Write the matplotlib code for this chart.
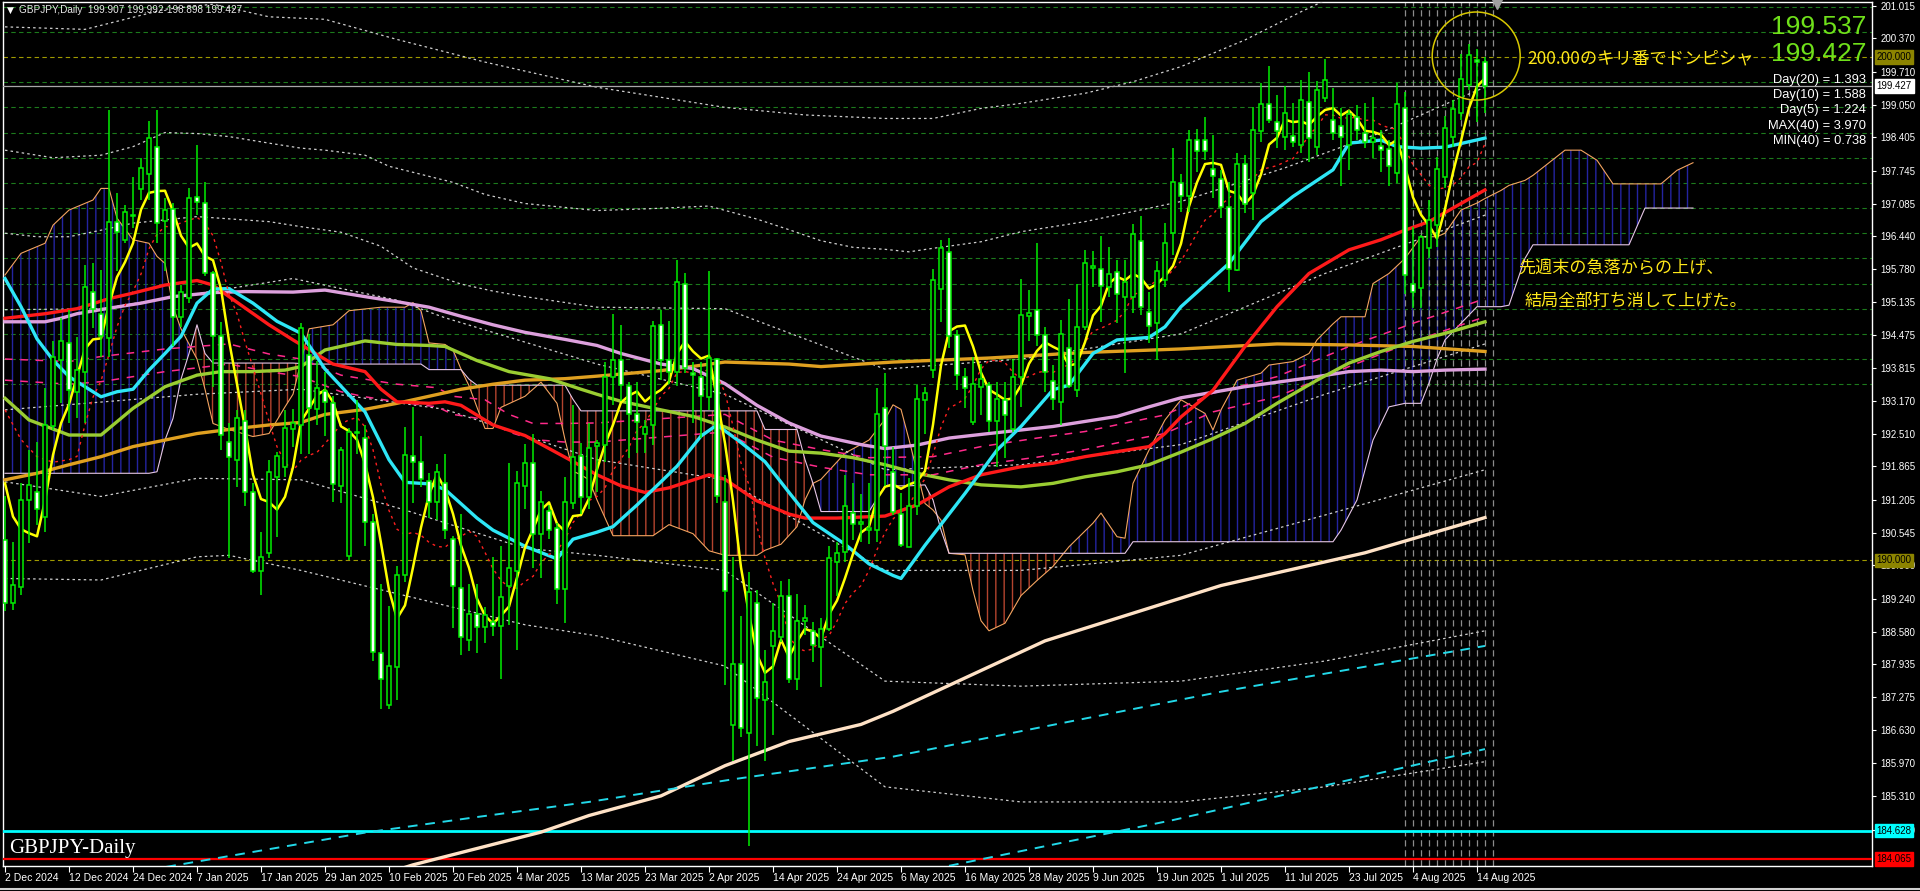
import numpy as np
import pandas as pd
import matplotlib
matplotlib.use("Agg")
import matplotlib.pyplot as plt
import matplotlib.transforms as mtransforms
from matplotlib.patches import Ellipse

# ---- daily candles, 2 Dec 2024 .. 15 Aug 2025 ----
opens = [190.41, 189.15, 189.48, 191.20, 191.36, 190.87, 192.66, 193.98, 194.31, 193.35,
         193.75, 195.34, 194.90, 194.41, 196.73, 196.37, 196.84, 197.37, 197.68, 198.22,
         196.75, 196.99, 194.83, 195.21, 197.21, 197.11, 195.70, 194.45, 192.36, 192.00,
         192.76, 191.36, 189.78, 190.14, 191.66, 191.86, 192.60, 192.69, 194.09, 193.01,
         193.36, 193.12, 191.48, 190.08, 192.53, 192.44, 190.77, 188.15, 187.12, 187.88,
         189.71, 192.07, 191.95, 191.57, 191.16, 191.54, 190.42, 189.46, 188.42, 188.94,
         188.68, 188.77, 188.70, 189.50, 189.78, 191.47, 191.93, 190.53, 190.99, 190.65,
         189.44, 191.13, 192.07, 191.26, 192.28, 192.30, 193.64, 193.98, 193.46, 192.91,
         192.52, 192.69, 194.67, 193.98, 193.74, 195.50, 193.72, 193.64, 193.25, 194.01,
         191.16, 186.72, 187.95, 186.57, 189.16, 187.22, 188.30, 188.47, 189.29, 187.65,
         188.79, 188.60, 188.27, 188.64, 189.97, 190.16, 190.95, 190.73, 190.60, 190.60,
         193.03, 191.76, 190.92, 190.27, 191.07, 193.19, 193.79, 195.40, 196.13, 194.48,
         193.65, 192.74, 193.45, 193.48, 192.76, 193.19, 192.60, 193.64, 194.85, 194.97,
         194.48, 193.57, 193.15, 194.21, 193.38, 194.63, 195.80, 195.78, 195.43, 195.72,
         195.23, 195.24, 196.35, 194.93, 194.71, 195.57, 196.50, 197.49, 197.24, 198.36,
         198.35, 197.77, 197.57, 197.03, 195.76, 197.87, 197.29, 198.53, 199.06, 198.70,
         198.41, 198.43, 198.25, 199.11, 198.22, 199.18, 198.74, 198.63, 198.25, 198.80,
         198.50, 198.32, 198.23, 198.17, 197.70, 198.99, 195.50, 195.41, 196.21, 196.66,
         197.62, 198.42, 198.88, 199.45, 199.95, 199.907]
highs = [191.27, 190.37, 191.53, 192.19, 192.36, 193.42, 194.35, 194.81, 194.97, 194.44,
         195.87, 195.90, 195.77, 198.95, 197.29, 197.06, 197.62, 197.99, 198.72, 198.95,
         197.20, 197.10, 195.47, 197.39, 198.25, 197.52, 195.74, 194.74, 192.72, 192.99,
         192.99, 191.53, 190.57, 191.99, 192.16, 192.99, 193.00, 194.71, 194.50, 193.97,
         193.75, 193.26, 192.26, 192.62, 193.19, 192.69, 190.92, 189.53, 189.10, 189.89,
         192.65, 193.04, 192.48, 191.73, 191.92, 192.12, 190.49, 190.92, 189.53, 189.53,
         189.07, 190.06, 190.28, 191.94, 191.77, 192.32, 192.51, 191.38, 191.09, 190.74,
         191.66, 193.08, 192.34, 192.72, 192.39, 193.94, 194.89, 194.67, 193.55, 193.55,
         192.78, 194.76, 194.97, 194.76, 195.96, 195.70, 193.94, 193.94, 195.75, 194.03,
         191.70, 190.06, 188.90, 189.76, 189.42, 188.21, 189.16, 189.59, 189.63, 189.33,
         189.11, 188.77, 188.86, 190.28, 190.36, 191.70, 191.53, 191.31, 191.53, 193.42,
         193.72, 192.26, 191.33, 191.63, 193.48, 193.45, 195.78, 196.37, 196.40, 194.58,
         193.82, 194.05, 193.90, 193.55, 193.55, 193.55, 194.01, 195.60, 195.37, 196.30,
         194.64, 193.88, 194.78, 195.20, 195.49, 196.17, 196.15, 196.44, 196.22, 195.97,
         195.97, 196.68, 196.84, 195.34, 195.94, 196.70, 198.19, 197.67, 198.56, 198.58,
         198.80, 198.45, 197.76, 197.52, 198.09, 198.05, 199.01, 199.48, 199.82, 199.25,
         199.43, 199.08, 199.54, 199.71, 199.53, 199.97, 199.38, 198.98, 198.95, 199.05,
         199.08, 199.21, 198.55, 198.35, 199.49, 199.31, 196.63, 196.46, 197.16, 198.02,
         198.83, 199.15, 200.07, 200.26, 200.16, 199.992]
lows = [189.00, 189.02, 189.31, 190.34, 190.70, 190.57, 192.59, 193.12, 192.72, 192.82,
        192.72, 194.61, 194.05, 194.05, 195.74, 196.30, 196.60, 197.16, 197.16, 196.30,
        195.74, 194.25, 194.64, 195.11, 196.86, 195.64, 193.45, 192.19, 190.04, 191.46,
        191.07, 189.74, 189.31, 190.04, 190.47, 191.66, 192.26, 192.12, 192.12, 192.69,
        192.48, 191.16, 191.13, 190.00, 192.12, 190.28, 188.00, 187.05, 187.05, 187.23,
        189.57, 191.13, 191.45, 190.85, 190.81, 190.42, 188.66, 188.11, 188.19, 188.15,
        188.36, 188.50, 187.65, 188.72, 188.22, 191.02, 189.85, 189.64, 190.42, 189.14,
        188.75, 191.02, 190.92, 191.02, 191.35, 191.96, 193.08, 193.16, 192.04, 192.13,
        192.13, 192.30, 193.59, 193.51, 193.46, 193.72, 192.73, 192.43, 192.99, 191.14,
        187.52, 186.01, 186.49, 184.33, 186.31, 186.01, 186.53, 188.38, 187.56, 187.43,
        188.51, 187.99, 187.48, 188.60, 189.29, 189.97, 190.41, 190.36, 190.32, 190.36,
        191.48, 190.90, 190.27, 190.26, 190.90, 192.52, 193.62, 194.74, 194.21, 193.39,
        193.02, 192.69, 192.89, 192.56, 191.86, 192.03, 192.56, 193.05, 194.35, 194.26,
        193.35, 192.99, 192.69, 193.42, 193.25, 194.58, 195.44, 194.74, 195.24, 194.71,
        193.72, 194.92, 194.88, 194.31, 193.98, 195.44, 196.07, 196.93, 196.93, 197.72,
        197.95, 197.20, 196.80, 195.34, 195.74, 196.90, 196.76, 198.32, 198.68, 198.19,
        198.15, 198.22, 198.09, 197.92, 198.05, 199.11, 198.35, 197.43, 197.76, 198.35,
        198.19, 198.00, 197.72, 197.43, 197.49, 195.29, 195.01, 195.01, 196.00, 196.23,
        197.39, 198.21, 198.75, 199.35, 198.70, 198.898]
closes = [189.15, 189.51, 191.20, 191.50, 191.03, 192.69, 194.05, 194.35, 193.39, 193.78,
          195.44, 194.99, 194.45, 196.73, 196.53, 196.93, 196.86, 197.79, 198.40, 196.70,
          196.97, 194.84, 195.34, 197.20, 197.13, 195.70, 194.45, 192.49, 192.06, 192.82,
          191.36, 189.78, 190.07, 191.76, 192.08, 192.62, 192.73, 194.61, 193.03, 193.42,
          193.15, 191.52, 192.19, 192.56, 192.56, 190.77, 188.18, 187.65, 187.90, 189.71,
          192.09, 191.95, 191.61, 191.16, 191.75, 190.60, 189.50, 188.47, 188.94, 188.68,
          188.92, 188.70, 189.27, 189.84, 191.54, 191.93, 190.53, 191.16, 190.60, 189.43,
          191.16, 192.05, 191.26, 192.23, 192.34, 193.65, 193.98, 193.49, 192.91, 192.75,
          192.65, 194.65, 193.98, 193.74, 195.53, 193.83, 193.68, 193.27, 194.03, 191.27,
          189.39, 187.95, 186.66, 189.37, 187.26, 187.58, 188.60, 189.30, 187.65, 188.79,
          188.85, 188.32, 188.64, 190.04, 190.15, 191.08, 190.73, 190.75, 190.64, 192.91,
          192.28, 190.97, 190.31, 191.07, 193.20, 193.32, 195.57, 196.20, 194.46, 193.68,
          193.42, 193.50, 193.60, 192.76, 193.20, 192.89, 193.65, 194.88, 194.92, 194.47,
          193.75, 193.20, 194.49, 193.46, 194.63, 195.90, 195.84, 195.45, 195.69, 195.30,
          195.54, 196.48, 195.03, 194.66, 195.74, 196.31, 197.52, 197.23, 198.36, 198.13,
          198.13, 197.64, 197.03, 195.78, 197.87, 197.08, 198.55, 199.06, 198.75, 198.54,
          198.88, 198.31, 199.15, 198.39, 199.35, 199.54, 198.50, 198.42, 198.87, 198.56,
          198.32, 198.40, 198.15, 197.84, 199.06, 195.67, 195.34, 196.43, 196.77, 197.77,
          198.60, 198.97, 199.56, 200.04, 199.907, 199.427]

date_labels = ["2 Dec 2024", "12 Dec 2024", "24 Dec 2024", "7 Jan 2025", "17 Jan 2025",
               "29 Jan 2025", "10 Feb 2025", "20 Feb 2025", "4 Mar 2025", "13 Mar 2025",
               "23 Mar 2025", "2 Apr 2025", "14 Apr 2025", "24 Apr 2025", "6 May 2025",
               "16 May 2025", "28 May 2025", "9 Jun 2025", "19 Jun 2025", "1 Jul 2025",
               "11 Jul 2025", "23 Jul 2025", "4 Aug 2025", "14 Aug 2025"]
price_ticks = [201.015, 200.370, 199.710, 199.050, 198.405, 197.745, 197.085, 196.440,
               195.780, 195.135, 194.475, 193.815, 193.170, 192.510, 191.865, 191.205,
               190.545, 189.900, 189.240, 188.580, 187.935, 187.275, 186.630, 185.970,
               185.310, 184.650]

# short averages before they can be computed from the visible closes
yellow_lead = [191.53, 190.87, 190.62, 190.54]
reddot_lead_x = [0, 2, 4, 6, 8]
reddot_lead_y = [192.99, 192.40, 192.06, 191.95, 192.00]

# ---- moving averages (bar index, price) ----
cyan_x = [0, 2, 4, 6, 8, 10, 12, 14, 16, 18, 20, 22, 24, 26, 28, 31, 34, 37, 40, 45, 48, 50,
          53, 55, 59, 61, 65, 69, 71, 74, 76, 79, 84, 87, 89, 92, 95, 98, 101, 105, 108, 111,
          112, 115, 120, 124, 127, 131, 133, 136, 139, 143, 145, 147, 153, 157, 161, 166, 168,
          172, 174, 177, 180, 185]
cyan_y = [195.60, 195.04, 194.40, 193.98, 193.65, 193.45, 193.25, 193.35, 193.40, 193.78,
          194.11, 194.45, 195.11, 195.39, 195.40, 195.11, 194.75, 194.51, 193.80, 192.95,
          192.00, 191.55, 191.52, 191.41, 190.84, 190.60, 190.28, 190.03, 190.42, 190.56,
          190.67, 191.10, 191.87, 192.47, 192.69, 192.34, 191.96, 191.35, 190.75, 190.32,
          189.93, 189.70, 189.64, 190.30, 191.33, 192.19, 192.66, 193.39, 193.48, 194.11,
          194.38, 194.43, 194.64, 195.04, 195.90, 196.73, 197.23, 197.76, 198.29, 198.35,
          198.22, 198.19, 198.21, 198.39]
red_x = [0, 5, 9, 13, 16, 20, 24, 26, 28, 33, 36, 41, 45, 47, 49, 53, 55, 57, 61, 65, 70,
         74, 77, 80, 83, 88, 90, 94, 98, 100, 104, 110, 114, 118, 122, 127, 131, 135, 139,
         143, 145, 147, 151, 155, 159, 163, 168, 172, 175, 178, 182, 185]
red_y = [194.81, 194.90, 195.00, 195.20, 195.31, 195.47, 195.56, 195.47, 195.24, 194.68,
         194.38, 193.90, 193.75, 193.40, 193.15, 193.12, 193.15, 193.08, 192.69, 192.48,
         192.05, 191.70, 191.48, 191.35, 191.44, 191.70, 191.61, 191.18, 190.92, 190.84,
         190.84, 190.88, 191.10, 191.46, 191.70, 191.86, 191.93, 192.06, 192.16, 192.26,
         192.52, 192.85, 193.38, 194.25, 195.04, 195.70, 196.17, 196.37, 196.56, 196.73,
         197.09, 197.36]
lime_x = [0, 3, 8, 12, 16, 20, 24, 27, 31, 35, 37, 40, 45, 49, 53, 55, 59, 63, 68, 72, 74,
          77, 82, 86, 90, 94, 98, 102, 106, 110, 114, 118, 122, 127, 131, 135, 139, 143, 147,
          151, 155, 159, 164, 168, 172, 176, 180, 185]
lime_y = [193.22, 192.79, 192.49, 192.49, 193.02, 193.45, 193.68, 193.75, 193.75, 193.78,
          193.85, 194.18, 194.36, 194.29, 194.27, 194.25, 193.97, 193.75, 193.61, 193.40,
          193.30, 193.16, 192.99, 192.86, 192.65, 192.39, 192.17, 192.13, 192.04, 191.90,
          191.73, 191.60, 191.50, 191.46, 191.53, 191.66, 191.76, 191.90, 192.15, 192.42,
          192.72, 193.12, 193.58, 193.92, 194.15, 194.35, 194.51, 194.74]
plum_x = [0, 5, 7, 9, 13, 17, 21, 26, 30, 36, 40, 45, 49, 53, 57, 61, 65, 70, 74, 77, 82,
          86, 90, 94, 98, 102, 107, 110, 114, 118, 123, 127, 131, 135, 139, 143, 147, 155,
          164, 168, 172, 176, 180, 185]
plum_y = [194.74, 194.74, 194.81, 194.90, 195.01, 195.11, 195.24, 195.32, 195.34, 195.33,
          195.37, 195.24, 195.14, 195.03, 194.85, 194.68, 194.53, 194.39, 194.27, 194.11,
          193.90, 193.81, 193.51, 193.08, 192.73, 192.47, 192.30, 192.22, 192.29, 192.43,
          192.52, 192.59, 192.66, 192.76, 192.86, 193.05, 193.23, 193.45, 193.65, 193.75,
          193.78, 193.75, 193.78, 193.80]
gold_x = [0, 4, 8, 12, 16, 20, 24, 29, 33, 37, 40, 45, 49, 53, 57, 61, 65, 70, 74, 82, 90,
          94, 98, 102, 107, 111, 123, 135, 147, 159, 168, 176, 185]
gold_y = [191.60, 191.73, 191.90, 192.06, 192.26, 192.39, 192.52, 192.62, 192.69, 192.74,
          192.90, 193.00, 193.12, 193.26, 193.40, 193.50, 193.58, 193.61, 193.66, 193.77,
          193.94, 193.92, 193.90, 193.85, 193.90, 193.94, 194.02, 194.13, 194.20, 194.30,
          194.28, 194.25, 194.15]
long_x = [40, 51, 67, 73, 82, 90, 98, 107, 111, 130, 152, 170, 185]
long_y = [183.40, 183.95, 184.60, 184.93, 185.32, 185.92, 186.40, 186.74, 187.00, 188.40,
          189.50, 190.15, 190.85]
cyan_dash1_x = [18, 45, 59, 73, 91, 111, 130, 152, 185]
cyan_dash1_y = [183.85, 184.59, 184.90, 185.20, 185.65, 186.10, 186.70, 187.39, 188.30]
cyan_dash2_x = [118, 146, 185]
cyan_dash2_y = [183.93, 184.84, 186.25]
pink_x = [0, 8, 12, 20, 28, 33, 37, 42, 45, 49, 54, 56, 60, 63, 66, 70, 74, 90, 96, 102,
          108, 116, 122, 129, 135, 141, 145, 151, 159, 168, 176, 185]
pink_a = [194.00, 193.95, 194.05, 194.20, 194.30, 194.10, 194.00, 193.68, 193.60, 193.50,
          193.43, 193.26, 193.19, 192.90, 192.72, 192.72, 192.73, 192.90, 192.39, 192.20,
          192.04, 192.06, 192.26, 192.43, 192.56, 192.76, 192.89, 193.32, 193.65, 194.25,
          194.71, 195.20]
pink_b = [193.58, 193.50, 193.55, 193.75, 193.90, 193.75, 193.65, 193.35, 193.25, 193.15,
          193.05, 192.90, 192.80, 192.55, 192.40, 192.35, 192.35, 192.55, 192.05, 191.85,
          191.70, 191.70, 191.90, 192.05, 192.20, 192.40, 192.52, 192.95, 193.25, 193.85,
          194.35, 194.84]

# ---- dotted band lines (bar index, price), top to bottom ----
band_t_x = [0, 10, 20, 26, 33, 40, 49, 60, 74, 90, 100, 110, 116, 122, 127, 135, 141, 147,
            155, 162, 166]
band_t_y = [200.60, 200.55, 200.95, 201.05, 200.80, 200.75, 200.35, 199.90, 199.40, 199.00,
            198.85, 198.78, 198.78, 198.98, 199.08, 199.28, 199.51, 199.81, 200.34, 200.90,
            201.20]
band_p_x = [0, 6, 12, 16, 20, 24, 28, 33, 37, 40, 45, 48, 56, 60, 65, 74, 81, 88, 94, 98,
            102, 106, 110, 113, 116, 122, 127, 135, 141, 147, 160, 172, 182, 185]
band_p_y = [198.15, 198.00, 198.05, 198.22, 198.50, 198.48, 198.42, 198.29, 198.19, 198.15,
            198.05, 197.83, 197.51, 197.27, 197.09, 196.95, 196.99, 197.04, 196.78, 196.57,
            196.35, 196.22, 196.18, 196.13, 196.20, 196.33, 196.53, 196.73, 196.93, 197.13,
            197.80, 198.50, 199.20, 199.40]
band_q_x = [0, 4, 8, 12, 16, 24, 33, 37, 42, 47, 51, 57, 61, 65, 74, 90, 100, 110, 127,
            147, 165, 185]
band_q_y = [196.50, 196.43, 196.43, 196.56, 196.70, 196.83, 196.73, 196.63, 196.52, 196.24,
            195.81, 195.49, 195.35, 195.24, 195.03, 195.00, 194.40, 193.80, 194.00, 194.50,
            195.70, 196.86]
band_c_x = [0, 12, 24, 36, 49, 55, 74, 90, 110, 127, 147, 165, 185]
band_c_y = [194.98, 195.00, 195.30, 195.60, 195.17, 194.82, 193.90, 193.30, 191.80, 191.90,
            192.30, 193.30, 194.30]
band_l1_x = [0, 24, 37, 55, 74, 90, 110, 127, 147, 165, 185]
band_l1_y = [192.99, 193.30, 193.40, 193.00, 192.00, 191.60, 189.80, 189.80, 190.10, 190.90,
             191.80]
band_l2_x = [0, 12, 24, 37, 50, 65, 74, 90, 110, 127, 147, 165, 185]
band_l2_y = [191.56, 191.27, 191.63, 191.60, 191.00, 190.24, 190.10, 189.80, 187.60, 187.50,
             187.60, 188.00, 188.60]
band_l3_x = [0, 12, 24, 28, 37, 50, 65, 74, 90, 110, 127, 147, 165, 185]
band_l3_y = [189.64, 189.61, 190.07, 190.10, 189.80, 189.30, 188.72, 188.50, 187.90, 185.50,
             185.20, 185.20, 185.50, 186.00]

# ---- ichimoku cloud (bar index, span A, span B), runs 26 bars ahead ----
cloud_x = [0, 2, 5, 6, 8, 11, 12, 13, 14, 16, 18, 19, 20, 21, 22, 23, 24, 25, 26, 28, 31,
           33, 35, 36, 38, 41, 43, 47, 50, 51, 52, 53, 55, 56, 57, 58, 59, 60, 61, 62, 65,
           67, 69, 70, 71, 72, 73, 74, 76, 81, 83, 86, 88, 90, 94, 95, 97, 99, 100, 101, 102,
           105, 108, 110, 111, 112, 113, 115, 116, 117, 118, 120, 121, 122, 123, 125, 127,
           129, 131, 133, 136, 137, 139, 140, 141, 143, 145, 147, 150, 151, 152, 154, 157,
           158, 161, 163, 164, 166, 167, 169, 170, 171, 173, 175, 177, 178, 179, 180, 182,
           184, 185, 187, 188, 190, 191, 193, 195, 197, 199, 201, 203, 205, 207, 209, 211]
span_a = [195.67, 196.10, 196.30, 196.66, 196.96, 197.16, 197.39, 197.39, 196.80, 196.37,
          196.30, 196.04, 195.90, 195.04, 194.60, 194.30, 194.00, 193.40, 192.72, 192.60,
          192.46, 192.52, 193.05, 193.30, 194.60, 194.68, 194.96, 195.03, 195.03, 195.12,
          194.96, 194.32, 194.29, 194.18, 193.80, 193.47, 193.04, 192.62, 192.62, 193.04,
          193.26, 193.54, 193.12, 192.40, 191.77, 191.70, 191.60, 191.20, 190.49, 190.49,
          190.71, 190.53, 190.19, 190.10, 190.10, 190.20, 190.32, 190.67, 191.20, 191.53,
          191.61, 192.13, 192.39, 192.80, 193.09, 193.00, 192.40, 191.13, 191.00, 190.80,
          190.14, 190.11, 189.40, 188.80, 188.60, 188.75, 189.30, 189.60, 189.88, 190.27,
          190.74, 190.94, 190.47, 190.44, 191.53, 192.19, 192.79, 193.19, 192.92, 192.59,
          192.99, 193.58, 193.72, 193.88, 193.95, 194.11, 194.38, 194.70, 194.84, 194.84,
          194.84, 195.50, 195.70, 196.00, 196.43, 196.43, 196.43, 196.50, 196.96, 197.10,
          197.19, 197.35, 197.45, 197.55, 197.65, 197.90, 198.15, 198.15, 197.95, 197.48,
          197.48, 197.48, 197.48, 197.75, 197.90]
span_b = [191.73, 191.73, 191.73, 191.73, 191.73, 191.73, 191.73, 191.73, 191.73, 191.73,
          191.73, 191.76, 192.39, 192.82, 193.60, 194.11, 194.68, 194.11, 193.92, 193.92,
          193.92, 193.92, 193.92, 193.92, 193.90, 193.90, 193.90, 193.90, 193.90, 193.90,
          193.90, 193.79, 193.79, 193.79, 193.79, 193.60, 193.48, 193.48, 193.48, 193.48,
          193.48, 193.48, 193.48, 193.48, 193.20, 192.97, 192.97, 192.97, 192.97, 192.97,
          192.97, 192.97, 192.97, 192.97, 192.97, 192.60, 192.60, 192.60, 192.00, 191.53,
          190.97, 190.97, 190.97, 191.48, 191.48, 191.48, 191.48, 191.50, 191.20, 190.60,
          190.14, 190.14, 190.14, 190.14, 190.14, 190.14, 190.14, 190.14, 190.14, 190.14,
          190.14, 190.14, 190.14, 190.14, 190.37, 190.37, 190.37, 190.37, 190.37, 190.37,
          190.37, 190.37, 190.37, 190.37, 190.37, 190.37, 190.37, 190.37, 190.60, 191.20,
          191.80, 192.39, 193.05, 193.12, 193.12, 193.52, 194.00, 194.38, 194.71, 195.04,
          195.04, 195.04, 195.07, 196.00, 196.27, 196.27, 196.27, 196.27, 196.27, 196.27,
          196.27, 197.00, 197.00, 197.00, 197.00]

GREEN = "#00ee00"
DOT = "#cfcfcf"
plt.rcParams["hatch.linewidth"] = 1.0
NARROW = ["Liberation Sans Narrow", "Liberation Sans", "DejaVu Sans"]
JP = ["Noto Sans CJK JP", "DejaVu Sans"]

fig = plt.figure(figsize=(19.2, 8.91), dpi=100, facecolor="black")
ax = fig.add_axes([3 / 1920, 25 / 891, 1869 / 1920, 864 / 891], facecolor="black")
ax.set_xlim(-0.25, 233.375)
ax.set_ylim(183.927, 201.094)

# horizontal guides every 0.5 yen (upper part only, as on the chart)
for lvl in [193.5, 194.0, 194.5, 195.0, 195.5, 196.0, 196.5, 197.0, 197.5, 198.0, 198.5,
            199.0, 199.5, 200.5, 201.0]:
    ax.axhline(lvl, color="#1c7a1c", lw=0.8, ls=(0, (4, 3)), zorder=1)
for lvl in [200.0, 190.0]:
    ax.axhline(lvl, color="#a09a00", lw=0.8, ls=(0, (4, 3)), zorder=1)

# ichimoku cloud with vertical hatching
sa = np.array(span_a)
sb = np.array(span_b)
ax.fill_between(cloud_x, sa, sb, where=sa >= sb, interpolate=True, facecolor="none",
                edgecolor="#2424a0", hatch="||", lw=0, zorder=2)
ax.fill_between(cloud_x, sa, sb, where=sa < sb, interpolate=True, facecolor="none",
                edgecolor="#b4442e", hatch="||", lw=0, zorder=2)
ax.plot(cloud_x, sa, color="#f4a460", lw=0.8, zorder=3)
ax.plot(cloud_x, sb, color="#e6c6e6", lw=0.8, zorder=3)

# dotted band lines
for bx, by in [(band_t_x, band_t_y), (band_p_x, band_p_y), (band_q_x, band_q_y),
               (band_c_x, band_c_y), (band_l1_x, band_l1_y), (band_l2_x, band_l2_y),
               (band_l3_x, band_l3_y)]:
    ax.plot(bx, by, color=DOT, lw=0.9, ls=(0, (2, 2.5)), zorder=3)

# long averages
ax.plot(long_x, long_y, color="#ffe2c6", lw=2.4, zorder=4)
ax.plot(cyan_dash1_x, cyan_dash1_y, color="#22d8e8", lw=1.4, ls=(0, (5, 4)), zorder=4)
ax.plot(cyan_dash2_x, cyan_dash2_y, color="#22d8e8", lw=1.4, ls=(0, (5, 4)), zorder=4)
ax.plot(pink_x, pink_a, color="#ff2a8a", lw=1.1, ls=(0, (5, 5)), zorder=4)
ax.plot(pink_x, pink_b, color="#ff2a8a", lw=1.1, ls=(0, (5, 5)), zorder=4)
ax.plot(gold_x, gold_y, color="#e0a020", lw=2.4, zorder=4)
ax.plot(plum_x, plum_y, color="#dda0dd", lw=2.4, zorder=4)
ax.plot(lime_x, lime_y, color="#9acd32", lw=2.4, zorder=4)
ax.plot(red_x, red_y, color="#ff1a1a", lw=2.4, zorder=4)
ax.plot(cyan_x, cyan_y, color="#2ee6f6", lw=2.4, zorder=5)

# short averages from the closes, with the read-off lead-in where history is missing
cl = pd.Series(closes)
bars = np.arange(len(closes))
sma10 = cl.rolling(10).mean()
sma5 = cl.rolling(5).mean()
ax.plot(reddot_lead_x + list(bars[9:]), reddot_lead_y + list(sma10[9:]), color="#ff2020",
        lw=1.0, ls=(0, (2, 3)), zorder=5)
ax.plot(list(bars[:4]) + list(bars[4:]), yellow_lead + list(sma5[4:]), color="#ffff00",
        lw=1.8, zorder=5)

# price lines
ax.axhline(199.427, color="#a8a8a8", lw=0.9, zorder=3)
ax.axhline(184.628, color="#00ffff", lw=2.0, zorder=3)
ax.axhline(184.065, color="#ff0000", lw=1.6, zorder=3)
ax.vlines(np.arange(175, 187), 183.927, 201.094, colors="#8c8c8c", lw=0.9,
          linestyles=(0, (5, 3)), zorder=2)

# candles
o = np.array(opens)
c = np.array(closes)
up = c >= o
lo = np.minimum(o, c)
ht = np.maximum(np.abs(c - o), 0.03)
ax.vlines(bars, lows, highs, colors=GREEN, lw=1.1, zorder=6)
ax.bar(bars[up], ht[up], bottom=lo[up], width=0.5, color="black", edgecolor=GREEN,
       lw=1.1, zorder=7)
ax.bar(bars[~up], ht[~up], bottom=lo[~up], width=0.5, color="white", edgecolor=GREEN,
       lw=1.1, zorder=7)

# annotations
ax.add_patch(Ellipse((183.9, 200.02), 11.0, 1.75, fill=False, edgecolor="#d8c800",
                     lw=1.1, zorder=8))
ax.text(190.25, 199.97, "200.00のキリ番でドンピシャ", family=JP, fontsize=12.5,
        color="#ffe81a", ha="left", va="center", zorder=9)
ax.text(189.1, 195.81, "先週末の急落からの上げ、", family=JP, fontsize=12.3,
        color="#ffe81a", ha="left", va="center", zorder=9)
ax.text(189.9, 195.17, "結局全部打ち消して上げた。", family=JP, fontsize=12.3,
        color="#ffe81a", ha="left", va="center", zorder=9)
ax.plot([186.5], [201.06], marker="v", color="#a0a0a0", ms=7, clip_on=False, zorder=9)

# info panel top right
ax.text(0.9968, 0.9705, "199.537", transform=ax.transAxes, ha="right", va="center",
        fontsize=19, color="#6fe01a", family="Liberation Sans", zorder=9)
ax.text(0.9968, 0.9398, "199.427", transform=ax.transAxes, ha="right", va="center",
        fontsize=19, color="#6fe01a", family="Liberation Sans", zorder=9)
for i, s in enumerate(["Day(20) = 1.393", "Day(10) = 1.588", "Day(5) = 1.224",
                       "MAX(40) = 3.970", "MIN(40) = 0.738"]):
    ax.text(0.9968, 1 - (78 + 15.2 * i) / 864, s, transform=ax.transAxes, ha="right",
            va="center", fontsize=9.3, color="white", family="Liberation Sans", zorder=9)

ax.text(0.0022, 0.9905, "▼", transform=ax.transAxes, ha="left", va="center",
        fontsize=6.5, color="white", family="DejaVu Sans")
ax.text(0.0086, 0.9905, "GBPJPY,Daily  199.907 199.992-198.898 199.427",
        transform=ax.transAxes, ha="left", va="center", fontsize=7.2, color="#e8e8e8",
        family=NARROW)
ax.text(0.0035, 0.0197, "GBPJPY-Daily", transform=ax.transAxes, ha="left", va="center",
        fontsize=15, color="white", family="Liberation Serif")

# axes styling
for sp in ax.spines.values():
    sp.set_color("white")
    sp.set_linewidth(1.0)
ax.yaxis.tick_right()
ax.set_yticks(price_ticks, [f"{v:.3f}" for v in price_ticks])
ax.tick_params(axis="y", colors="white", labelsize=7, length=3, pad=3)
for lbl in ax.get_yticklabels():
    lbl.set_family("Liberation Sans")
ax.set_xticks(np.arange(0, 8 * len(date_labels), 8), date_labels)
ax.tick_params(axis="x", colors="white", labelsize=7.5, length=4, pad=1)
for lbl in ax.get_xticklabels():
    lbl.set_ha("left")
    lbl.set_family(NARROW)

tr = mtransforms.blended_transform_factory(ax.transAxes, ax.transData)
for val, bg in [(200.0, "#8c8400"), (199.427, "white"), (190.0, "#8c8400"),
                (184.628, "#00ffff"), (184.065, "#ff0000")]:
    ax.text(1.0025, val, f"{val:.3f}", transform=tr, ha="left", va="center", fontsize=7,
            color="black", family="Liberation Sans", zorder=20, clip_on=False,
            bbox=dict(boxstyle="square,pad=0.18", fc=bg, ec=bg))

fig.add_artist(plt.Line2D([0, 1], [2 / 891, 2 / 891], color="#d0d0d0", lw=1.5))
fig.savefig("out.png", dpi=100, facecolor="black")
